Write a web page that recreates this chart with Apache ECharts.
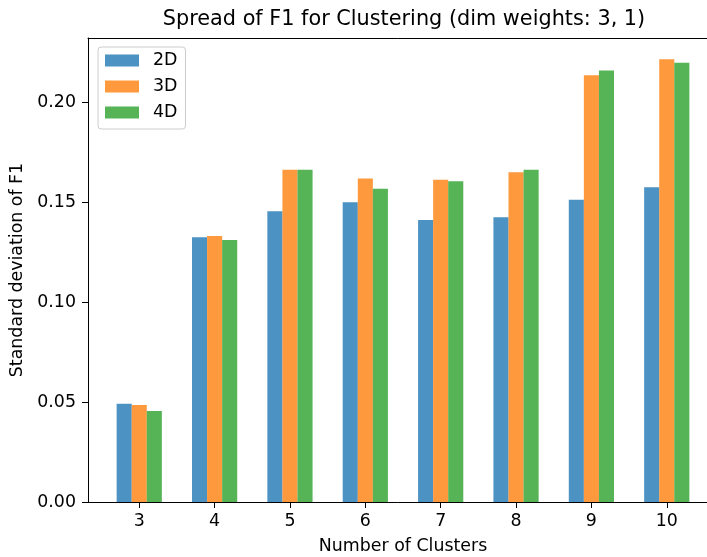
<!DOCTYPE html>
<html>
<head>
<meta charset="utf-8">
<script src="https://cdn.jsdelivr.net/npm/echarts@6/dist/echarts.min.js"></script>
<style>
html,body{margin:0;padding:0;background:#fff;}
#chart{width:707px;height:557px;}
</style>
</head>
<body>
<div id="chart"></div>
<script>
const clusters = [3, 4, 5, 6, 7, 8, 9, 10];
const std2D = [0.0492, 0.1326, 0.1456, 0.1501, 0.1412, 0.1426, 0.1513, 0.1576];
const std3D = [0.0486, 0.1332, 0.1663, 0.1619, 0.1613, 0.1651, 0.2137, 0.2217];
const std4D = [0.0456, 0.1312, 0.1663, 0.1568, 0.1606, 0.1663, 0.2160, 0.2199];
const yTicks = [0, 0.05, 0.10, 0.15, 0.20];
const seriesNames = ['2D', '3D', '4D'];
const seriesColors = ['#1f77b4', '#ff7f0e', '#2ca02c'];

const FONT = 'DejaVu Sans';
const chart = echarts.init(document.getElementById('chart'), null, {renderer: 'canvas'});

function toPairs(arr) { return clusters.map((c, i) => [c, arr[i]]); }
const values = [std2D, std3D, std4D];

const option = {
  animation: false,
  backgroundColor: '#fff',
  textStyle: {fontFamily: FONT},
  title: {
    text: 'Spread of F1 for Clustering (dim weights: 3, 1)',
    left: 404,
    textAlign: 'center',
    top: 9,
    padding: 0,
    textStyle: {fontFamily: FONT, fontSize: 20.8, fontWeight: 'normal', color: '#000'}
  },
  legend: {
    orient: 'vertical',
    left: 98,
    top: 47,
    padding: [5, 8, 8, 7],
    itemWidth: 34,
    itemHeight: 12,
    itemGap: 9,
    icon: 'rect',
    borderColor: '#cccccc',
    borderWidth: 1,
    borderRadius: 3,
    backgroundColor: 'rgba(255,255,255,0.8)',
    textStyle: {fontFamily: FONT, fontSize: 17.4, color: '#000', padding: [0, 0, 0, 9]},
    data: seriesNames
  },
  grid: {
    left: 88,
    top: 38,
    width: 630,
    height: 464,
    show: false,
    containLabel: false,
    outerBoundsMode: 'none'
  },
  xAxis: [{
    type: 'value',
    min: 2.32,
    max: 10.68,
    name: 'Number of Clusters',
    nameLocation: 'middle',
    nameGap: 36,
    nameTextStyle: {fontFamily: FONT, fontSize: 17.4, color: '#000'},
    axisLine: {show: true, lineStyle: {color: '#000', width: 1}},
    axisTick: {show: true, length: 6, lineStyle: {color: '#000'}, customValues: clusters},
    axisLabel: {show: true, margin: 11, fontFamily: FONT, fontSize: 17.4, color: '#000', customValues: clusters,
      formatter: v => String(v)},
    splitLine: {show: false}
  }, {
    type: 'value',
    position: 'top',
    min: 2.32,
    max: 10.68,
    axisLine: {show: true, onZero: false, lineStyle: {color: '#000', width: 1}},
    axisTick: {show: false},
    axisLabel: {show: false},
    splitLine: {show: false}
  }],
  yAxis: {
    type: 'value',
    min: 0,
    max: 0.2323,
    name: 'Standard deviation of F1',
    nameLocation: 'middle',
    nameGap: 61,
    nameRotate: 90,
    nameTextStyle: {fontFamily: FONT, fontSize: 17.4, color: '#000'},
    axisLine: {show: true, lineStyle: {color: '#000', width: 1}},
    axisTick: {show: true, length: 6, lineStyle: {color: '#000'}, customValues: yTicks},
    axisLabel: {show: true, margin: 12, fontFamily: FONT, fontSize: 17.4, color: '#000', customValues: yTicks,
      formatter: v => Number(v).toFixed(2)},
    splitLine: {show: false}
  },
  series: seriesNames.map((n, k) => ({
    name: n,
    type: 'bar',
    xAxisIndex: 0,
    data: toPairs(values[k]),
    barWidth: '20%',
    barGap: '0%',
    itemStyle: {color: seriesColors[k], opacity: 0.8}
  }))
};
chart.setOption(option);
</script>
</body>
</html>
